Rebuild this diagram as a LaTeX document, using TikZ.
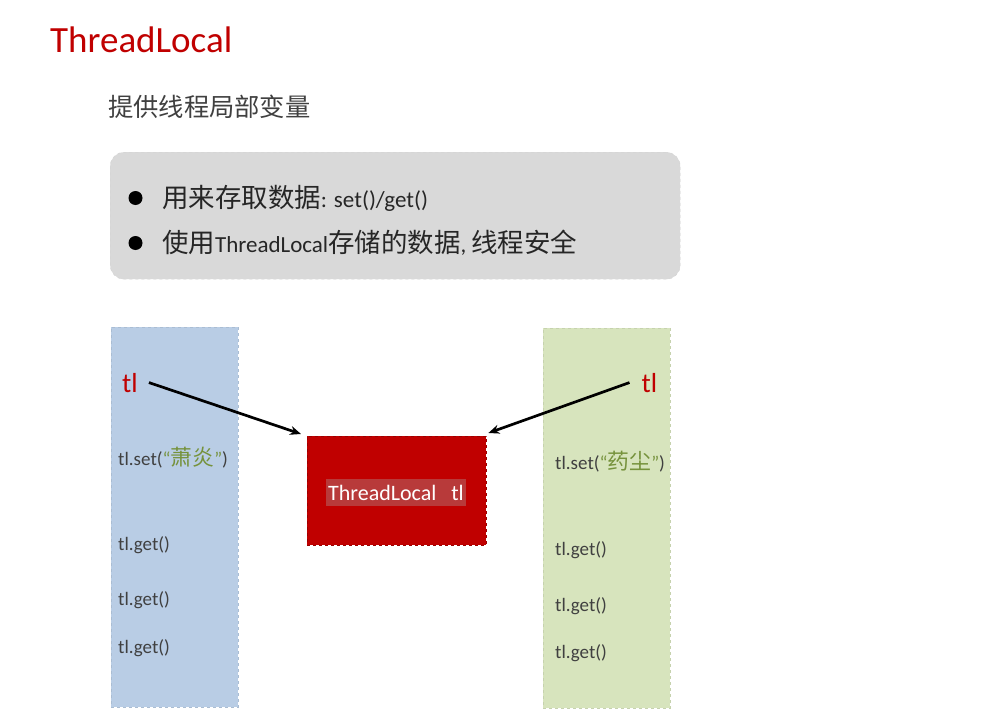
\documentclass[tikz,border=0pt]{standalone}
\usepackage{fontspec}
\setmainfont{Carlito}
\newfontfamily\cjk[Scale=1.15]{Noto Sans CJK SC}
\usetikzlibrary{arrows.meta}
\definecolor{titlered}{HTML}{C00000}
\definecolor{txtgray}{HTML}{404040}
\definecolor{boxgray}{HTML}{D9D9D9}
\definecolor{colblue}{HTML}{B9CDE5}
\definecolor{colgreen}{HTML}{D7E4BD}
\definecolor{namegreen}{HTML}{76923C}
\definecolor{hilite}{HTML}{B83A3A}
\newcommand{\myfs}[1]{\fontsize{#1}{#1}\selectfont}
\begin{document}
\begin{tikzpicture}[x=1pt,y=-1pt,
  txt/.style={anchor=base west, inner sep=0pt, text=txtgray},
  coltxt/.style={txt, font=\myfs{19}},
  column/.style={anchor=north west, inner sep=0pt, fill=#1, draw=#1!92!black, dashed, line width=0.4pt, minimum width=127, minimum height=380},
  tlname/.style={anchor=base west, inner sep=0pt, text=titlered, font=\myfs{27.5}},
  bullet/.style={circle, fill=black, inner sep=0pt, minimum size=14},
  linkarrow/.style={line width=2.7pt, -{Stealth[length=11pt,width=9pt]}, black}
]
\useasboundingbox (0,0) rectangle (994,717);
\fill[white] (0,0) rectangle (994,717);

% headings
\node[anchor=base west, inner sep=0pt, text=titlered, font=\myfs{37}] (title) at (50,53) {ThreadLocal};
\node[txt, font=\myfs{22}\cjk] (subtitle) at (108,117) {提供线程局部变量};

% info box
\node[anchor=north west, fill=boxgray, draw=gray!35, dashed, line width=0.4pt, rounded corners=14pt, minimum width=570, minimum height=127] (info) at (110,152) {};
\node[bullet] (b1) at (135.5,198) {};
\node[bullet] (b2) at (135.5,243) {};
\node[txt, text=black!85, font=\myfs{23}] (l1) at (162,207.5) {{\cjk 用来存取数据}: set()/get()};
\node[txt, text=black!85, font=\myfs{23}] (l2) at (162,252) {{\cjk 使用}ThreadLocal{\cjk 存储的数据}, {\cjk 线程安全}};

% columns
\node[column=colblue] (colL) at (111,327) {};
\node[column=colgreen] (colR) at (543,328) {};

% ThreadLocal box
\node[anchor=north west, fill=titlered, draw=titlered!80!black, dashed, line width=0.4pt, minimum width=179, minimum height=109, inner sep=0pt] (tlbox) at (307,436) {};
\node[fill=hilite, text=white, font=\myfs{22}, inner xsep=2pt, inner ysep=0pt, minimum height=27] (tlboxtxt) at (396,492.5) {ThreadLocal\ \ \ tl};

% tl names
\node[tlname] (tlL) at (122,392) {tl};
\node[tlname] (tlR) at (641.5,392) {tl};

% left column code
\node[coltxt] (setL) at (118,465) {tl.set(\textcolor{namegreen}{“{\cjk 萧炎}”})};
\node[coltxt] (getL1) at (118,550) {tl.get()};
\node[coltxt] (getL2) at (118,605) {tl.get()};
\node[coltxt] (getL3) at (118,653) {tl.get()};

% right column code
\node[coltxt] (setR) at (555,469) {tl.set(\textcolor{namegreen}{“{\cjk 药尘}”})};
\node[coltxt] (getR1) at (555,555) {tl.get()};
\node[coltxt] (getR2) at (555,611) {tl.get()};
\node[coltxt] (getR3) at (555,658) {tl.get()};

% arrows
\draw[linkarrow] ([xshift=11pt]tlL.east) -- ([shift={(-6,-2)}]tlbox.north west);
\draw[linkarrow] ([xshift=-12pt]tlR.west) -- ([shift={(2,-3)}]tlbox.north east);
\end{tikzpicture}
\end{document}
